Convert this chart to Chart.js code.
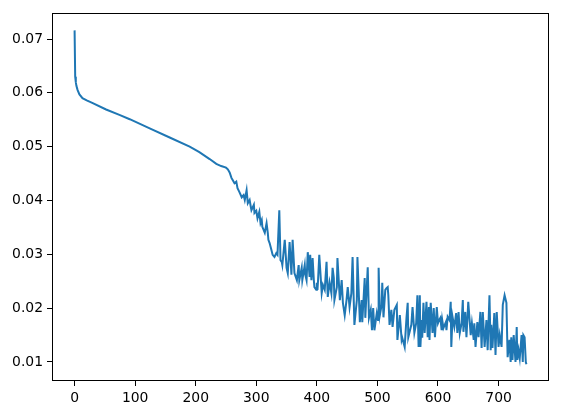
<!DOCTYPE html>
<html>
<head>
<meta charset="utf-8">
<script src="https://cdn.jsdelivr.net/npm/chart.js@4/dist/chart.umd.min.js"></script>
<style>
html,body{margin:0;padding:0;background:#fff;}
#wrap{width:567px;height:415px;position:relative;}
</style>
</head>
<body>
<div id="wrap"><canvas id="c" width="567" height="415"></canvas></div>
<script>
// training steps (x)
const steps = [
  0,1,2,3,5,8,13,20,30,52,
  74,91,124,157,190,206,223,234,242,250,
  253,256,259,261,264,267,269,272,276,279,
  281,284,286,289,291,292,296,297,300,302,
  305,307,309,310,314,317,319,320,322,325,
  327,330,333,335,338,340,342,343,347,350,
  352,355,358,360,363,367,368,370,371,375,
  376,380,381,383,385,388,389,391,393,395,
  396,399,400,401,402,404,408,410,413,416,
  418,421,424,426,428,429,433,434,438,441,
  443,446,449,451,454,457,459,462,466,467,
  471,474,475,479,480,484,486,489,491,493,
  495,499,501,502,504,507,508,510,513,515,
  517,518,520,523,525,528,532,533,537,540,
  541,545,548,550,551,556,558,561,564,566,
  568,570,571,573,574,576,578,581,583,585,
  586,588,591,593,595,598,600,602,604,606,
  607,609,613,614,616,619,621,622,624,627,
  630,632,634,636,639,641,642,645,647,650,
  654,656,659,660,662,665,667,670,672,674,
  677,680,682,685,687,688,690,693,695,697,
  700,702,705,707,710,713,715,718,720,721,
  723,725,728,730,731,733,735,738,740,741,
  743,745,746
];
// loss values
const loss = [
  0.0716,0.0630,0.0620,0.0613,0.0605,0.0597,0.0590,0.0586,0.0581,0.0569,
  0.0559,0.0551,0.0534,0.0517,0.0500,0.0490,0.0477,0.0468,0.0464,0.0461,
  0.0458,0.0452,0.0442,0.0438,0.0432,0.0435,0.0423,0.0416,0.0406,0.0410,
  0.0401,0.0419,0.0395,0.0401,0.0388,0.0382,0.0392,0.0377,0.0381,0.0367,
  0.0379,0.0358,0.0364,0.0351,0.0340,0.0358,0.0340,0.0327,0.0321,0.0308,
  0.0299,0.0295,0.0302,0.0299,0.0382,0.0289,0.0286,0.0280,0.0327,0.0275,
  0.0265,0.0323,0.0262,0.0327,0.0265,0.0252,0.0262,0.0280,0.0252,0.0275,
  0.0252,0.0280,0.0262,0.0252,0.0304,0.0258,0.0299,0.0252,0.0293,0.0252,
  0.0239,0.0234,0.0247,0.0234,0.0252,0.0299,0.0228,0.0243,0.0234,0.0286,
  0.0221,0.0248,0.0228,0.0275,0.0256,0.0215,0.0239,0.0293,0.0215,0.0252,
  0.0210,0.0187,0.0215,0.0239,0.0202,0.0228,0.0295,0.0169,0.0215,0.0295,
  0.0174,0.0215,0.0174,0.0256,0.0182,0.0276,0.0182,0.0197,0.0159,0.0200,
  0.0159,0.0191,0.0178,0.0275,0.0187,0.0206,0.0247,0.0183,0.0234,0.0237,
  0.0239,0.0224,0.0169,0.0197,0.0165,0.0197,0.0206,0.0141,0.0187,0.0141,
  0.0145,0.0128,0.0182,0.0210,0.0146,0.0169,0.0202,0.0154,0.0172,0.0224,
  0.0128,0.0224,0.0128,0.0178,0.0145,0.0210,0.0154,0.0212,0.0146,0.0202,
  0.0141,0.0210,0.0154,0.0200,0.0146,0.0202,0.0172,0.0178,0.0182,0.0159,
  0.0178,0.0163,0.0174,0.0159,0.0184,0.0178,0.0212,0.0128,0.0184,0.0165,
  0.0191,0.0154,0.0193,0.0154,0.0172,0.0215,0.0156,0.0193,0.0146,0.0212,
  0.0150,0.0172,0.0141,0.0172,0.0128,0.0174,0.0146,0.0193,0.0126,0.0193,
  0.0128,0.0178,0.0122,0.0224,0.0122,0.0169,0.0126,0.0191,0.0113,0.0193,
  0.0128,0.0150,0.0128,0.0206,0.0224,0.0210,0.0109,0.0141,0.0100,0.0146,
  0.0104,0.0150,0.0100,0.0165,0.0104,0.0122,0.0107,0.0150,0.0100,0.0150,
  0.0146,0.0100,0.0096
];
const xTicks = [0,100,200,300,400,500,600,700];
const yTicks = [0.01,0.02,0.03,0.04,0.05,0.06,0.07];

const points = steps.map((s,i)=>({x:s, y:loss[i]}));
const xMin = -37.3, xMax = 783.3;
const yMin = 0.00647, yMax = 0.07483;

const frame = {
  id:'frame',
  afterDatasetsDraw(chart){
    const a = chart.chartArea, ctx = chart.ctx;
    ctx.save();
    ctx.strokeStyle = '#000';
    ctx.lineWidth = 1;
    ctx.strokeRect(Math.round(a.left)+0.5, Math.round(a.top)+0.5, Math.round(a.right-a.left)-1, Math.round(a.bottom-a.top)-1);
    ctx.restore();
  }
};
const bg = {
  id:'bg',
  beforeDraw(chart){
    const ctx = chart.ctx; ctx.save(); ctx.fillStyle='#fff'; ctx.fillRect(0,0,chart.width,chart.height); ctx.restore();
  }
};

Chart.defaults.font.family = "'DejaVu Sans'";
Chart.defaults.font.size = 13.9;
Chart.defaults.color = '#000';

new Chart(document.getElementById('c'), {
  type:'line',
  data:{datasets:[{data:points, borderColor:'#1f77b4', borderWidth:2, pointRadius:0, tension:0, fill:false}]},
  options:{
    responsive:false, animation:false,
    layout:{padding:{left:0, top:13, right:18, bottom:0}},
    plugins:{legend:{display:false}, tooltip:{enabled:false}},
    scales:{
      x:{type:'linear', min:xMin, max:xMax,
        afterBuildTicks(s){ s.ticks = xTicks.map(v=>({value:v})); },
        afterFit(s){ s.height = 34; },
        grid:{display:true, drawOnChartArea:false, drawTicks:true, tickLength:5, color:'#000'},
        border:{display:false},
        ticks:{autoSkip:false, maxRotation:0, padding:4, callback:v=>String(v)}
      },
      y:{type:'linear', min:yMin, max:yMax,
        afterBuildTicks(s){ s.ticks = yTicks.map(v=>({value:v})); },
        afterFit(s){ s.width = 52; },
        grid:{display:true, drawOnChartArea:false, drawTicks:true, tickLength:5, color:'#000'},
        border:{display:false},
        ticks:{autoSkip:false, padding:4, callback:v=>v.toFixed(2)}
      }
    }
  },
  plugins:[bg, frame]
});
</script>
</body>
</html>
